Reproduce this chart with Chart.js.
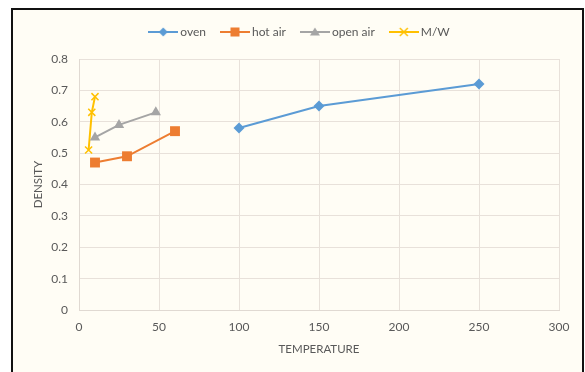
<!DOCTYPE html>
<html><head><meta charset="utf-8">
<script src="https://cdn.jsdelivr.net/npm/chart.js@4/dist/chart.umd.min.js"></script>
<style>html,body{margin:0;padding:0;background:#fff}#c{display:block}</style>
</head><body>
<canvas id="c" width="585" height="372"></canvas>
<script>
// Data
const seriesNames = ['oven', 'hot air', 'open air', 'M/W'];
const ovenX = [100, 150, 250];
const ovenY = [0.58, 0.65, 0.72];
const hotAirX = [10, 30, 60];
const hotAirY = [0.47, 0.49, 0.57];
const openAirX = [10, 25, 48];
const openAirY = [0.55, 0.59, 0.63];
const mwX = [6, 8, 10];
const mwY = [0.51, 0.63, 0.68];
const xTicks = [0, 50, 100, 150, 200, 250, 300];
const yTicks = [0, 0.1, 0.2, 0.3, 0.4, 0.5, 0.6, 0.7, 0.8];

const colors = ['#5B9BD5', '#ED7D31', '#A5A5A5', '#FFC000'];
const styles = ['rectRot', 'rect', 'triangle', 'crossRot'];
const radii = [5.5, 7, 6, 5];

function pts(xs, ys){ return xs.map((x,i)=>({x:x, y:ys[i]})); }

function legendIcon(color, style){
  const cv = document.createElement('canvas');
  cv.width = 30; cv.height = 12;
  const c = cv.getContext('2d');
  c.strokeStyle = color; c.fillStyle = color; c.lineWidth = 2;
  c.beginPath(); c.moveTo(0,6); c.lineTo(30,6); c.stroke();
  const cx = 15, cy = 6;
  c.beginPath();
  if (style === 'rectRot'){ c.moveTo(cx,cy-4.5); c.lineTo(cx+4.5,cy); c.lineTo(cx,cy+4.5); c.lineTo(cx-4.5,cy); c.closePath(); c.fill(); }
  else if (style === 'rect'){ c.fillRect(cx-4.5,cy-4.5,9,9); }
  else if (style === 'triangle'){ c.moveTo(cx,cy-4.5); c.lineTo(cx+5,cy+3.5); c.lineTo(cx-5,cy+3.5); c.closePath(); c.fill(); }
  else { c.lineWidth=1.5; c.moveTo(cx-4,cy-4); c.lineTo(cx+4,cy+4); c.moveTo(cx+4,cy-4); c.lineTo(cx-4,cy+4); c.stroke(); }
  return cv;
}

const allX = [ovenX, hotAirX, openAirX, mwX];
const allY = [ovenY, hotAirY, openAirY, mwY];
const datasets = seriesNames.map((n,i)=>({
  label: n,
  data: pts(allX[i], allY[i]),
  showLine: true,
  borderColor: colors[i],
  backgroundColor: colors[i],
  borderWidth: 2,
  pointStyle: styles[i],
  pointRadius: radii[i],
  pointBorderWidth: i===3 ? 1.5 : 0,
  pointBorderColor: colors[i],
  pointBackgroundColor: colors[i],
  legendIcon: legendIcon(colors[i], styles[i])
}));

const frame = {
  id: 'frame',
  beforeDraw(chart){
    const c = chart.ctx;
    c.save();
    c.fillStyle = '#fff'; c.fillRect(0,0,585,372);
    c.fillStyle = '#FFFDF5'; c.fillRect(12,9,570,363);
    c.fillStyle = '#111';
    c.fillRect(11,8,573,2);   // top
    c.fillRect(11,8,2,364);   // left
    c.fillRect(582,8,2,364);  // right
    c.restore();
  },
  beforeLayout(chart){
    const lg = chart.legend;
    if (lg && !lg._patched){
      const f = lg.fit;
      lg.fit = function(){ f.call(this); this.height = 51; };
      lg._patched = true;
    }
  },
  afterLayout(chart){
    const lg = chart.legend;
    if (lg){ lg.left += 15; lg.right += 15; }
  }
};

const txt = '#595959';
const fam = 'Lato, "Open Sans", sans-serif';

new Chart(document.getElementById('c'), {
  type: 'scatter',
  data: { datasets },
  plugins: [frame],
  options: {
    responsive: false,
    animation: false,
    layout: { padding: { left: 13, right: 26, top: 8, bottom: 0 } },
    plugins: {
      tooltip: { enabled: false },
      legend: {
        position: 'top',
        labels: {
          usePointStyle: true,
          pointStyleWidth: 22,
          boxHeight: 12,
          padding: 18,
          color: txt,
          font: { family: fam, size: 12 },
          generateLabels(chart){
            return chart.data.datasets.map((d,i)=>({
              text: d.label, pointStyle: d.legendIcon, fillStyle: d.borderColor,
              strokeStyle: d.borderColor, lineWidth: 0, hidden: false, datasetIndex: i, fontColor: txt
            }));
          }
        }
      }
    },
    scales: {
      x: {
        type: 'linear', min: 0, max: 300,
        afterBuildTicks(s){ s.ticks = xTicks.map(v=>({value:v})); },
        afterFit(s){ s.height = 62; },
        grid: { color: '#E8E1DA', drawTicks: false, lineWidth: 1 },
        border: { color: '#E0D9D2' },
        ticks: { color: txt, padding: 10, font: { family: fam, size: 12 } },
        title: { display: true, text: 'TEMPERATURE', color: txt, font: { family: fam, size: 11.5 }, padding: { top: 0, bottom: 16 } }
      },
      y: {
        type: 'linear', min: 0, max: 0.8,
        afterBuildTicks(s){ s.ticks = yTicks.map(v=>({value:v})); },
        afterFit(s){ s.width = 66; },
        grid: { color: '#E8E1DA', drawTicks: false, lineWidth: 1 },
        border: { color: '#E0D9D2' },
        ticks: { color: txt, padding: 11, font: { family: fam, size: 12 }, callback: v => String(Math.round(v*10)/10) },
        title: { display: true, text: 'DENSITY', color: txt, font: { family: fam, size: 11.5 }, padding: { top: 18, bottom: 0 } }
      }
    }
  }
});
</script>
</body></html>
